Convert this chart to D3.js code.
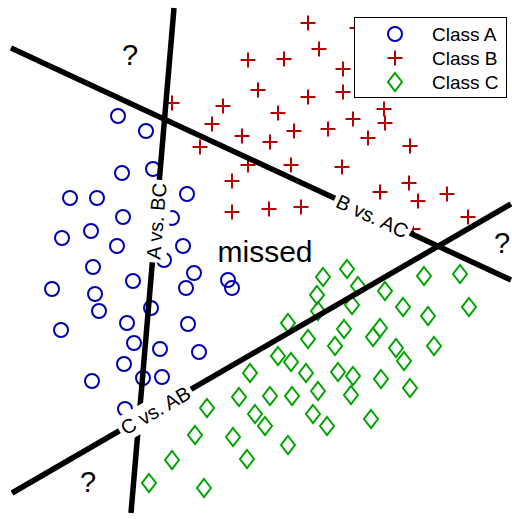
<!DOCTYPE html>
<html>
<head>
<meta charset="utf-8">
<script src="https://cdn.jsdelivr.net/npm/d3@7"></script>
<style>
  body { margin: 0; background: #fff; }
  svg { display: block; }
  text { font-family: "Liberation Sans", Arial, Helvetica, sans-serif; fill: #000; }
</style>
</head>
<body>
<svg id="chart" width="512" height="519"></svg>
<script>
// Two-feature samples for three classes
const classA = [
  [-1.38, 1.44], [-1.10, 1.29], [-1.34, 0.87], [-1.03, 0.91], [-1.86, 0.62],
  [-1.59, 0.62], [-0.69, 0.66], [-1.33, 0.43], [-0.84, 0.42], [-1.94, 0.22],
  [-1.65, 0.29], [-1.39, 0.14], [-0.73, 0.14], [-0.92, 0.00], [-1.63, -0.07],
  [-1.23, -0.21], [-0.62, -0.13], [-0.70, -0.28], [-0.28, -0.20], [-0.24, -0.28],
  [-2.04, -0.29], [-1.61, -0.34], [-1.57, -0.51], [-1.05, -0.48], [-1.29, -0.63],
  [-0.68, -0.64], [-1.95, -0.70], [-1.22, -0.83], [-0.96, -0.89], [-0.57, -0.92],
  [-1.32, -1.04], [-1.13, -1.18], [-0.94, -1.17], [-1.64, -1.21], [-1.31, -1.49]
];
const classB = [
  [-0.08, 2.00], [0.02, 1.70], [-0.84, 1.57], [-0.33, 1.54], [-0.44, 1.36],
  [-0.14, 1.24], [-0.56, 1.13], [-0.08, 0.95], [-0.24, 0.79], [-0.24, 0.48],
  [0.52, 2.37], [0.63, 2.11], [0.28, 2.01], [0.87, 1.91], [0.52, 1.63],
  [0.87, 1.68], [1.28, 1.51], [1.29, 1.37], [0.22, 1.47], [0.38, 1.29],
  [0.72, 1.31], [0.97, 1.41], [0.14, 1.18], [1.12, 1.22], [1.54, 1.14],
  [0.35, 0.95], [0.86, 0.93], [1.53, 0.77], [1.24, 0.68], [1.62, 0.59],
  [1.91, 0.66], [0.13, 0.51], [0.45, 0.53], [2.12, 0.43], [1.57, 0.31],
  [1.01, 2.32]
];
const classC = [
  [0.67, -0.17], [0.91, -0.09], [1.02, -0.26], [0.61, -0.35], [0.62, -0.51],
  [0.96, -0.45], [1.29, -0.31], [1.68, -0.16], [2.04, -0.14], [0.32, -0.63],
  [0.52, -0.79], [0.88, -0.69], [0.79, -0.86], [1.47, -0.47], [1.72, -0.56],
  [2.13, -0.47], [1.17, -0.77], [1.24, -0.68], [1.40, -0.88], [1.78, -0.86],
  [0.22, -0.96], [0.35, -1.02], [-0.06, -1.13], [0.50, -1.13], [0.82, -1.12],
  [0.97, -1.16], [1.48, -1.01], [1.25, -1.19], [0.62, -1.31], [0.14, -1.36],
  [0.36, -1.36], [0.95, -1.35], [1.54, -1.28], [-0.17, -1.37], [-0.01, -1.54],
  [0.09, -1.66], [0.57, -1.54], [0.71, -1.66], [1.15, -1.59], [0.32, -1.85],
  [-0.49, -1.48], [-0.61, -1.75], [-0.23, -1.77], [-0.84, -2.00], [-0.09, -1.99],
  [-1.07, -2.23], [-0.52, -2.28]
];

// One-vs-rest decision boundaries (end points in feature space)
const boundaryNames = ["A vs. BC", "B vs. AC", "C vs. AB"];
const boundaryFrom  = [[-1.25, -2.53], [-2.45, 2.12], [-2.44, -2.33]];
const boundaryTo    = [[-0.82, 2.52], [2.55, -0.20], [2.55, 0.56]];
// Fraction along each boundary where its name is placed
const labelAt = [0.578, 0.723, 0.287];

// Free text annotations
const noteTexts = ["?", "?", "?", "missed"];
const notePos   = [[-1.26, 1.95], [2.46, 0.07], [-1.68, -2.32], [0.09, -0.02]];

const legendLabels = ["Class A", "Class B", "Class C"];

// ---------------------------------------------------------------
const W = 512, H = 519;
const svg = d3.select("#chart");
const x = d3.scaleLinear().domain([-2.56, 2.56]).range([0, W]);
const y = d3.scaleLinear().domain([-2.59, 2.60]).range([H, 0]);

const colors = ["#0000b4", "#b40000", "#00a400"];
const plusPath = "M-7.5,0H7.5M0,-7.5V7.5";
const diamondPath = "M0,-9L7,0L0,9L-7,0Z";

function drawMarker(sel, k) {
  if (k === 0) {
    sel.append("circle").attr("r", 7);
  } else if (k === 1) {
    sel.append("path").attr("d", plusPath);
  } else {
    sel.append("path").attr("d", diamondPath);
  }
  sel.attr("fill", "none").attr("stroke", colors[k]).attr("stroke-width", 2);
}

// Scatter points
const pts = svg.append("g");
[classA, classB, classC].forEach((data, k) => {
  pts.append("g").selectAll("g")
    .data(data)
    .join("g")
    .attr("transform", d => `translate(${x(d[0])},${y(d[1])})`)
    .each(function() { drawMarker(d3.select(this), k); });
});

// Boundaries
const lines = svg.append("g");
boundaryNames.forEach((name, i) => {
  lines.append("line")
    .attr("x1", x(boundaryFrom[i][0])).attr("y1", y(boundaryFrom[i][1]))
    .attr("x2", x(boundaryTo[i][0])).attr("y2", y(boundaryTo[i][1]))
    .attr("stroke", "#000").attr("stroke-width", 5.5);
});

// Boundary labels on a white box, aligned with their lines
const labels = svg.append("g");
boundaryNames.forEach((name, i) => {
  const p0 = [x(boundaryFrom[i][0]), y(boundaryFrom[i][1])];
  const p1 = [x(boundaryTo[i][0]), y(boundaryTo[i][1])];
  const t = labelAt[i];
  const cx = p0[0] + (p1[0] - p0[0]) * t;
  const cy = p0[1] + (p1[1] - p0[1]) * t;
  const ang = Math.atan2(p1[1] - p0[1], p1[0] - p0[0]) * 180 / Math.PI;
  const g = labels.append("g").attr("transform", `translate(${cx},${cy}) rotate(${ang})`);
  const rect = g.append("rect").attr("fill", "#fff");
  const txt = g.append("text")
    .attr("text-anchor", "middle")
    .attr("dy", "0.38em")
    .style("font-size", "20px")
    .text(name);
  const bb = txt.node().getBBox();
  rect.attr("x", bb.x - 3).attr("y", bb.y - 2)
      .attr("width", bb.width + 6).attr("height", bb.height + 4);
});

// Annotations
svg.append("g").selectAll("text")
  .data(noteTexts)
  .join("text")
  .attr("x", (d, i) => x(notePos[i][0]))
  .attr("y", (d, i) => y(notePos[i][1]))
  .attr("text-anchor", "middle")
  .style("font-size", d => d === "?" ? "29px" : "30px")
  .text(d => d);

// Legend
const lg = svg.append("g");
lg.append("rect")
  .attr("x", 354.5).attr("y", 17.5).attr("width", 152).attr("height", 80)
  .attr("fill", "#fff").attr("stroke", "#000").attr("stroke-width", 1);
legendLabels.forEach((lab, k) => {
  const ry = 34 + k * 24;
  const m = lg.append("g").attr("transform", `translate(395,${ry})`);
  drawMarker(m, k);
  lg.append("text").attr("x", 432).attr("y", ry + 7)
    .style("font-size", "19px").text(lab);
});
</script>
</body>
</html>
